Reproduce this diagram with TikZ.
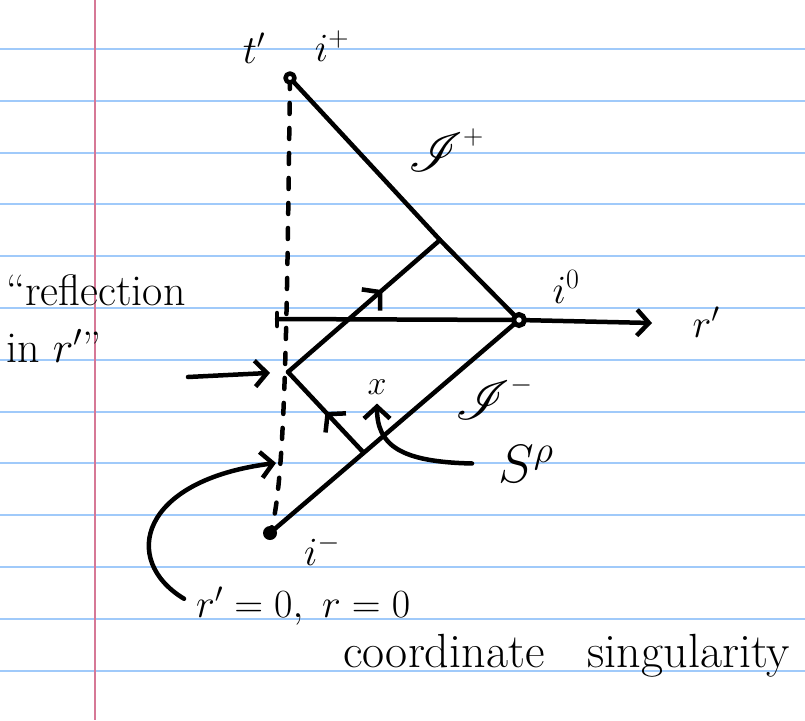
\RequirePackage{fix-cm}
\documentclass[tikz,border=0pt]{standalone}
\usepackage{mathrsfs}
\usetikzlibrary{arrows.meta,decorations.markings,calc}
\definecolor{ruleblue}{RGB}{160,202,250}
\definecolor{marginred}{RGB}{214,120,150}
\newcommand{\scri}{\scalebox{2.2}{$\mathscr{I}$}}

\begin{document}
\begin{tikzpicture}[
  x=1pt, y=-1pt,
  pen/.style={line width=4.5pt, line cap=round, line join=round},
  rule/.style={ruleblue, line width=2pt},
  lab/.style={font=\fontsize{40}{44}\selectfont, inner sep=0pt},
  big/.style={font=\fontsize{54}{60}\selectfont, inner sep=0pt},
  note/.style={font=\fontsize{44}{57}\selectfont, inner sep=0pt, align=left},
  barb/.style={-{Straight Barb[length=12pt,width=26pt]}},
  midarr/.style={
    postaction={decorate},
    decoration={markings,
      mark=at position #1 with {\arrow{Straight Barb[length=12pt,width=28pt]}}},
  },
]
  % Paper: white sheet, ruled lines, margin
  \useasboundingbox[fill=white] (0,0) rectangle (805,720);
  \foreach \k in {0,...,12} {\draw[rule] (0,{49+51.8*\k}) -- (805,{49+51.8*\k});}
  \draw[marginred, line width=2pt] (95,0) -- (95,720);

  % Corners of the diagram
  \coordinate (ip) at (290,78);
  \coordinate (io) at (519,320);
  \coordinate (im) at (270,533);
  \coordinate (refl) at (288,372);
  \coordinate (hitp) at (440,240);
  \coordinate (hitm) at (363,452);
  \coordinate (axstart) at (277,319);
  \coordinate (axend) at (652,323);
  \coordinate (dashhit) at (276,463);
  \coordinate (reftail) at (188,377);

  % r'=0 line (dashed), null boundaries and r' axis
  \draw[pen, dash pattern=on 11pt off 14pt] (ip) .. controls (287,300) and (286,490) .. (im);
  \draw[pen] (ip) .. controls (315,105) and (380,175) .. (hitp) -- (io);
  \draw[pen] (im) -- (io);
  \draw[pen] ($(axstart)+(0,-6)$) -- ($(axstart)+(0,7)$);
  \draw[pen] (axstart) -- (io);
  \draw[pen, barb] (io) -- (axend);

  % Light ray, reflected at r'=0
  \draw[pen, midarr=0.5] (hitm) -- (refl);
  \draw[pen, midarr=0.62] (refl) -- (hitp);

  % Points at infinity
  \draw[pen, fill=white] (ip) circle (4.5);
  \draw[line width=5pt, fill=white] (io) circle (5.5);
  \fill (im) circle (7);

  % Labels
  \node[lab] (tlab)   at (254,48)  {$t'$};
  \node[lab] (iplab)  at (332,46)  {$i^{+}$};
  \node[lab] (scplab) at (446,150) {$\scri^{+}$};
  \node[lab] (iolab)  at (566,287) {$i^{0}$};
  \node[lab] (rplab)  at (706,322) {$r'$};
  \node[lab] (scmlab) at (494,398) {$\scri^{-}$};
  \node[lab] (imlab)  at (322,550) {$i^{-}$};
  \node[lab, font=\fontsize{34}{36}\selectfont] (xlab) at (377,387) {$x$};
  \node[big, anchor=west] (slab) at (498,464) {$S^{\rho}$};
  \node[note, anchor=north west] (refltxt) at (6,274) {``reflection\\in $r'$''};
  \node[lab, anchor=west] (rzero) at (196,606) {$r'=0,\ r=0$};
  \node[note, font=\fontsize{48}{57}\selectfont, anchor=base west] (cstxt) at (343,667)
    {coordinate\hspace{0.9em}singularity};

  % Pointers
  \draw[pen, barb, shorten >=18pt] (reftail) -- (refl);
  \draw[pen, barb, shorten <=26pt, shorten >=9pt] (slab.west) .. controls (400,462) and (377,445) .. (xlab.south);
  \draw[pen, barb, shorten <=14pt] (rzero.west) .. controls (120,560) and (140,480) .. (dashhit);
\end{tikzpicture}
\end{document}
